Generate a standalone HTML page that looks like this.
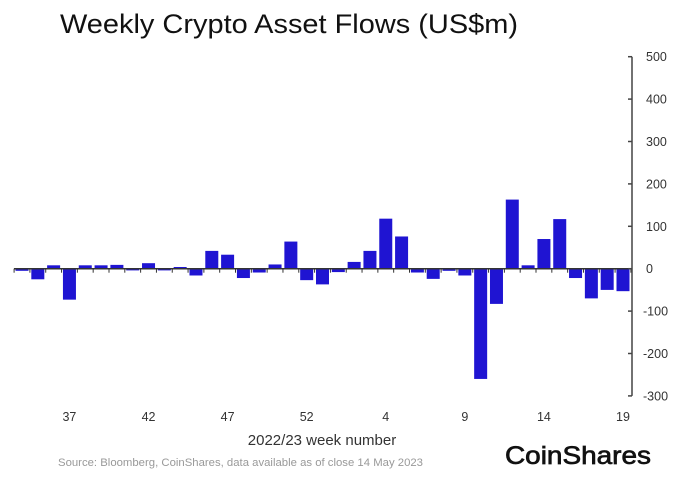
<!DOCTYPE html>
<html><head><meta charset="utf-8"><style>
body{margin:0;background:#fff;}
svg{display:block;font-family:"Liberation Sans",sans-serif;}
</style></head><body>
<svg id="chart" width="693" height="482" viewBox="0 0 693 482">
<text x="60" y="33" font-size="27" fill="#111" textLength="458" lengthAdjust="spacingAndGlyphs">Weekly Crypto Asset Flows (US$m)</text>
<g id="bars"></g>
<g id="axis"></g>
<text x="322" y="445" font-size="15" fill="#333" text-anchor="middle">2022/23 week number</text>
<text x="58" y="466" font-size="11" fill="#999" textLength="365" lengthAdjust="spacingAndGlyphs">Source: Bloomberg, CoinShares, data available as of close 14 May 2023</text>
<text x="505" y="464" font-size="25" fill="#111" stroke="#111" stroke-width="0.7" textLength="146" lengthAdjust="spacingAndGlyphs">CoinShares</text>
</svg>
<script>
const weeks = [34,35,36,37,38,39,40,41,42,43,44,45,46,47,48,49,50,51,52,53,1,2,3,4,5,6,7,8,9,10,11,12,13,14,15,16,17,18,19];
const flows = [-5,-25,8,-73,8,8,9,-4,13,-4,4,-16,42,33,-22,-9,10,64,-27,-37,-8,16,42,118,76,-9,-24,-5,-16,-260,-83,163,8,70,117,-22,-70,-50,-53];
const xTickLabels = ["37","42","47","52","4","9","14","19"];
const xTickIndex = [3,8,13,18,23,28,33,38];
const yTicks = [500,400,300,200,100,0,-100,-200,-300];

const NS="http://www.w3.org/2000/svg";
const x0=22, step=(623-22)/38, bw=13;
const y = v => 268.7 - v*0.424;
const xi = i => x0 + i*step;
const gb=document.getElementById('bars'), ga=document.getElementById('axis');
function mk(tag,attrs,parent){const e=document.createElementNS(NS,tag);for(const k in attrs)e.setAttribute(k,attrs[k]);parent.appendChild(e);return e;}

flows.forEach((v,i)=>{
  const r=mk('rect',{x:xi(i)-bw/2,y:Math.min(y(v),y(0)),width:bw,height:Math.abs(y(v)-y(0)),fill:'#1f14d2'},gb);
  
  
});
const zl=mk('line',{x1:14,x2:632,y1:y(0),y2:y(0),stroke:'#333','stroke-width':1.5},ga);


for(let i=0;i<=flows.length;i++){
  const t=mk('line',{x1:xi(i)-step/2,x2:xi(i)-step/2,y1:y(0),y2:y(0)+4,stroke:'#333','stroke-width':1},ga);
  
  
}
xTickLabels.forEach((l,k)=>{
  const t=mk('text',{x:xi(xTickIndex[k]),y:421,'font-size':12.5,fill:'#333','text-anchor':'middle'},ga);
  t.textContent=l;
  
  
});
const ax=mk('line',{x1:632,x2:632,y1:y(500),y2:y(-300),stroke:'#444','stroke-width':1.5},ga);


yTicks.forEach(v=>{
  const t=mk('line',{x1:628,x2:632,y1:y(v),y2:y(v),stroke:'#444','stroke-width':1.5},ga);
  
  
  const l=mk('text',{x:v<0?643:646,y:y(v)+4.5,'font-size':12.5,fill:'#333'},ga);
  l.textContent=v;
  
  
});
</script>
</body></html>
